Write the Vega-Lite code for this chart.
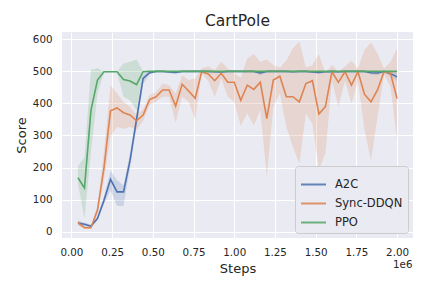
{
  "$schema": "https://vega.github.io/schema/vega-lite/v6.json",
  "width": 351,
  "height": 206,
  "autosize": {"type": "none"},
  "padding": {"left": 62, "top": 32, "right": 19, "bottom": 50},
  "background": "white",
  "title": {"text": "CartPole", "fontSize": 15.5, "font": "DejaVu Sans", "fontWeight": "normal", "color": "#262626", "anchor": "middle", "frame": "group", "baseline": "alphabetic", "offset": -9},
  "config": {
    "view": {"fill": "#EAEAF2", "stroke": null},
    "font": "DejaVu Sans"
  },
  "data": {"values": [
    {"s":40000,"a":"A2C","m":27,"lo":20,"hi":35},
    {"s":80000,"a":"A2C","m":23,"lo":18,"hi":28},
    {"s":120000,"a":"A2C","m":17,"lo":12,"hi":22},
    {"s":160000,"a":"A2C","m":41,"lo":35,"hi":48},
    {"s":200000,"a":"A2C","m":98,"lo":85,"hi":110},
    {"s":240000,"a":"A2C","m":163,"lo":130,"hi":190},
    {"s":280000,"a":"A2C","m":124,"lo":80,"hi":160},
    {"s":320000,"a":"A2C","m":124,"lo":80,"hi":145},
    {"s":360000,"a":"A2C","m":222,"lo":200,"hi":245},
    {"s":400000,"a":"A2C","m":350,"lo":330,"hi":370},
    {"s":440000,"a":"A2C","m":478,"lo":460,"hi":492},
    {"s":480000,"a":"A2C","m":496,"lo":490,"hi":500},
    {"s":520000,"a":"A2C","m":500,"lo":498,"hi":500},
    {"s":560000,"a":"A2C","m":500,"lo":498,"hi":500},
    {"s":600000,"a":"A2C","m":498,"lo":494,"hi":500},
    {"s":640000,"a":"A2C","m":497,"lo":493,"hi":500},
    {"s":680000,"a":"A2C","m":500,"lo":498,"hi":500},
    {"s":720000,"a":"A2C","m":500,"lo":498,"hi":500},
    {"s":760000,"a":"A2C","m":500,"lo":498,"hi":500},
    {"s":800000,"a":"A2C","m":500,"lo":498,"hi":500},
    {"s":840000,"a":"A2C","m":500,"lo":498,"hi":500},
    {"s":880000,"a":"A2C","m":499,"lo":496,"hi":500},
    {"s":920000,"a":"A2C","m":498,"lo":495,"hi":500},
    {"s":960000,"a":"A2C","m":500,"lo":498,"hi":500},
    {"s":1000000,"a":"A2C","m":500,"lo":498,"hi":500},
    {"s":1040000,"a":"A2C","m":500,"lo":498,"hi":500},
    {"s":1080000,"a":"A2C","m":500,"lo":498,"hi":500},
    {"s":1120000,"a":"A2C","m":500,"lo":498,"hi":500},
    {"s":1160000,"a":"A2C","m":495,"lo":488,"hi":500},
    {"s":1200000,"a":"A2C","m":500,"lo":498,"hi":500},
    {"s":1240000,"a":"A2C","m":500,"lo":498,"hi":500},
    {"s":1280000,"a":"A2C","m":500,"lo":498,"hi":500},
    {"s":1320000,"a":"A2C","m":500,"lo":498,"hi":500},
    {"s":1360000,"a":"A2C","m":499,"lo":496,"hi":500},
    {"s":1400000,"a":"A2C","m":500,"lo":498,"hi":500},
    {"s":1440000,"a":"A2C","m":500,"lo":498,"hi":500},
    {"s":1480000,"a":"A2C","m":498,"lo":495,"hi":500},
    {"s":1520000,"a":"A2C","m":497,"lo":493,"hi":500},
    {"s":1560000,"a":"A2C","m":499,"lo":496,"hi":500},
    {"s":1600000,"a":"A2C","m":500,"lo":498,"hi":500},
    {"s":1640000,"a":"A2C","m":499,"lo":496,"hi":500},
    {"s":1680000,"a":"A2C","m":500,"lo":498,"hi":500},
    {"s":1720000,"a":"A2C","m":500,"lo":498,"hi":500},
    {"s":1760000,"a":"A2C","m":500,"lo":498,"hi":500},
    {"s":1800000,"a":"A2C","m":500,"lo":498,"hi":500},
    {"s":1840000,"a":"A2C","m":496,"lo":490,"hi":500},
    {"s":1880000,"a":"A2C","m":495,"lo":488,"hi":500},
    {"s":1920000,"a":"A2C","m":500,"lo":498,"hi":500},
    {"s":1960000,"a":"A2C","m":493,"lo":485,"hi":500},
    {"s":2000000,"a":"A2C","m":483,"lo":470,"hi":496},
    {"s":40000,"a":"Sync-DDQN","m":28,"lo":20,"hi":35},
    {"s":80000,"a":"Sync-DDQN","m":12,"lo":8,"hi":18},
    {"s":120000,"a":"Sync-DDQN","m":12,"lo":8,"hi":18},
    {"s":160000,"a":"Sync-DDQN","m":67,"lo":55,"hi":80},
    {"s":200000,"a":"Sync-DDQN","m":200,"lo":160,"hi":250},
    {"s":240000,"a":"Sync-DDQN","m":377,"lo":296,"hi":457},
    {"s":280000,"a":"Sync-DDQN","m":386,"lo":327,"hi":431},
    {"s":320000,"a":"Sync-DDQN","m":371,"lo":320,"hi":405},
    {"s":360000,"a":"Sync-DDQN","m":364,"lo":327,"hi":390},
    {"s":400000,"a":"Sync-DDQN","m":346,"lo":317,"hi":364},
    {"s":440000,"a":"Sync-DDQN","m":364,"lo":345,"hi":382},
    {"s":480000,"a":"Sync-DDQN","m":412,"lo":395,"hi":426},
    {"s":520000,"a":"Sync-DDQN","m":421,"lo":405,"hi":436},
    {"s":560000,"a":"Sync-DDQN","m":442,"lo":421,"hi":462},
    {"s":600000,"a":"Sync-DDQN","m":442,"lo":421,"hi":457},
    {"s":640000,"a":"Sync-DDQN","m":392,"lo":340,"hi":432},
    {"s":680000,"a":"Sync-DDQN","m":460,"lo":421,"hi":488},
    {"s":720000,"a":"Sync-DDQN","m":439,"lo":405,"hi":473},
    {"s":760000,"a":"Sync-DDQN","m":416,"lo":350,"hi":478},
    {"s":800000,"a":"Sync-DDQN","m":499,"lo":494,"hi":510},
    {"s":840000,"a":"Sync-DDQN","m":492,"lo":470,"hi":515},
    {"s":880000,"a":"Sync-DDQN","m":471,"lo":421,"hi":504},
    {"s":920000,"a":"Sync-DDQN","m":494,"lo":478,"hi":530},
    {"s":960000,"a":"Sync-DDQN","m":466,"lo":421,"hi":509},
    {"s":1000000,"a":"Sync-DDQN","m":466,"lo":405,"hi":494},
    {"s":1040000,"a":"Sync-DDQN","m":410,"lo":330,"hi":480},
    {"s":1080000,"a":"Sync-DDQN","m":457,"lo":369,"hi":540},
    {"s":1120000,"a":"Sync-DDQN","m":444,"lo":332,"hi":554},
    {"s":1160000,"a":"Sync-DDQN","m":466,"lo":379,"hi":530},
    {"s":1200000,"a":"Sync-DDQN","m":353,"lo":171,"hi":537},
    {"s":1240000,"a":"Sync-DDQN","m":473,"lo":390,"hi":520},
    {"s":1280000,"a":"Sync-DDQN","m":485,"lo":431,"hi":512},
    {"s":1320000,"a":"Sync-DDQN","m":421,"lo":327,"hi":533},
    {"s":1360000,"a":"Sync-DDQN","m":421,"lo":265,"hi":572},
    {"s":1400000,"a":"Sync-DDQN","m":405,"lo":212,"hi":593},
    {"s":1440000,"a":"Sync-DDQN","m":462,"lo":369,"hi":512},
    {"s":1480000,"a":"Sync-DDQN","m":471,"lo":337,"hi":520},
    {"s":1520000,"a":"Sync-DDQN","m":367,"lo":192,"hi":554},
    {"s":1560000,"a":"Sync-DDQN","m":390,"lo":245,"hi":495},
    {"s":1600000,"a":"Sync-DDQN","m":499,"lo":470,"hi":520},
    {"s":1640000,"a":"Sync-DDQN","m":466,"lo":390,"hi":500},
    {"s":1680000,"a":"Sync-DDQN","m":499,"lo":470,"hi":515},
    {"s":1720000,"a":"Sync-DDQN","m":457,"lo":400,"hi":533},
    {"s":1760000,"a":"Sync-DDQN","m":499,"lo":470,"hi":509},
    {"s":1800000,"a":"Sync-DDQN","m":429,"lo":317,"hi":567},
    {"s":1840000,"a":"Sync-DDQN","m":405,"lo":223,"hi":590},
    {"s":1880000,"a":"Sync-DDQN","m":442,"lo":358,"hi":556},
    {"s":1920000,"a":"Sync-DDQN","m":499,"lo":489,"hi":509},
    {"s":1960000,"a":"Sync-DDQN","m":494,"lo":452,"hi":530},
    {"s":2000000,"a":"Sync-DDQN","m":415,"lo":285,"hi":572},
    {"s":40000,"a":"PPO","m":168,"lo":150,"hi":205},
    {"s":80000,"a":"PPO","m":136,"lo":40,"hi":232},
    {"s":120000,"a":"PPO","m":379,"lo":250,"hi":505},
    {"s":160000,"a":"PPO","m":473,"lo":430,"hi":510},
    {"s":200000,"a":"PPO","m":499,"lo":497,"hi":500},
    {"s":240000,"a":"PPO","m":499,"lo":497,"hi":500},
    {"s":280000,"a":"PPO","m":499,"lo":497,"hi":500},
    {"s":320000,"a":"PPO","m":475,"lo":421,"hi":525},
    {"s":360000,"a":"PPO","m":470,"lo":410,"hi":530},
    {"s":400000,"a":"PPO","m":459,"lo":379,"hi":537},
    {"s":440000,"a":"PPO","m":499,"lo":497,"hi":500},
    {"s":480000,"a":"PPO","m":500,"lo":499,"hi":500},
    {"s":520000,"a":"PPO","m":500,"lo":499,"hi":500},
    {"s":560000,"a":"PPO","m":500,"lo":499,"hi":500},
    {"s":600000,"a":"PPO","m":500,"lo":499,"hi":500},
    {"s":640000,"a":"PPO","m":500,"lo":499,"hi":500},
    {"s":680000,"a":"PPO","m":500,"lo":499,"hi":500},
    {"s":720000,"a":"PPO","m":500,"lo":499,"hi":500},
    {"s":760000,"a":"PPO","m":500,"lo":499,"hi":500},
    {"s":800000,"a":"PPO","m":500,"lo":499,"hi":500},
    {"s":840000,"a":"PPO","m":500,"lo":499,"hi":500},
    {"s":880000,"a":"PPO","m":500,"lo":499,"hi":500},
    {"s":920000,"a":"PPO","m":500,"lo":499,"hi":500},
    {"s":960000,"a":"PPO","m":500,"lo":499,"hi":500},
    {"s":1000000,"a":"PPO","m":500,"lo":499,"hi":500},
    {"s":1040000,"a":"PPO","m":500,"lo":499,"hi":500},
    {"s":1080000,"a":"PPO","m":500,"lo":499,"hi":500},
    {"s":1120000,"a":"PPO","m":500,"lo":499,"hi":500},
    {"s":1160000,"a":"PPO","m":500,"lo":499,"hi":500},
    {"s":1200000,"a":"PPO","m":500,"lo":499,"hi":500},
    {"s":1240000,"a":"PPO","m":500,"lo":499,"hi":500},
    {"s":1280000,"a":"PPO","m":500,"lo":499,"hi":500},
    {"s":1320000,"a":"PPO","m":500,"lo":499,"hi":500},
    {"s":1360000,"a":"PPO","m":500,"lo":499,"hi":500},
    {"s":1400000,"a":"PPO","m":500,"lo":499,"hi":500},
    {"s":1440000,"a":"PPO","m":500,"lo":499,"hi":500},
    {"s":1480000,"a":"PPO","m":500,"lo":499,"hi":500},
    {"s":1520000,"a":"PPO","m":500,"lo":499,"hi":500},
    {"s":1560000,"a":"PPO","m":500,"lo":499,"hi":500},
    {"s":1600000,"a":"PPO","m":500,"lo":499,"hi":500},
    {"s":1640000,"a":"PPO","m":500,"lo":499,"hi":500},
    {"s":1680000,"a":"PPO","m":500,"lo":499,"hi":500},
    {"s":1720000,"a":"PPO","m":500,"lo":499,"hi":500},
    {"s":1760000,"a":"PPO","m":500,"lo":499,"hi":500},
    {"s":1800000,"a":"PPO","m":500,"lo":499,"hi":500},
    {"s":1840000,"a":"PPO","m":500,"lo":499,"hi":500},
    {"s":1880000,"a":"PPO","m":500,"lo":499,"hi":500},
    {"s":1920000,"a":"PPO","m":500,"lo":499,"hi":500},
    {"s":1960000,"a":"PPO","m":500,"lo":499,"hi":500},
    {"s":2000000,"a":"PPO","m":500,"lo":499,"hi":500}
  ]},
  "layer": [
    {
      "mark": {"type": "area", "fillOpacity": 0.2},
      "encoding": {
        "x": {"field": "s", "type": "quantitative",
          "scale": {"domain": [-58000, 2098000], "nice": false, "zero": false},
          "axis": {"orient": "bottom", "title": "Steps", "values": [0, 250000, 500000, 750000, 1000000, 1250000, 1500000, 1750000, 2000000],
            "labelExpr": "format(datum.value / 1000000, '.2f')",
            "grid": true, "gridColor": "#FFFFFF", "gridWidth": 1, "ticks": false, "domain": false,
            "labelFont": "DejaVu Sans", "labelFontSize": 10.3, "labelColor": "#262626", "labelPadding": 17.5, "labelBaseline": "alphabetic",
            "labelFlush": false, "labelOverlap": false,
            "titleFont": "DejaVu Sans", "titleFontSize": 13, "titleFontWeight": "normal", "titleColor": "#262626", "titleY": 34, "titleBaseline": "alphabetic"}},
        "y": {"field": "lo", "type": "quantitative",
          "scale": {"domain": [-20, 623], "nice": false, "zero": false},
          "axis": {"title": "Score", "values": [0, 100, 200, 300, 400, 500, 600],
            "grid": true, "gridColor": "#FFFFFF", "gridWidth": 1, "ticks": false, "domain": false,
            "labelFont": "DejaVu Sans", "labelFontSize": 10.3, "labelColor": "#262626", "labelPadding": 10,
            "titleFont": "DejaVu Sans", "titleFontSize": 13, "titleFontWeight": "normal", "titleColor": "#262626",
            "titleX": -37, "titleY": 103, "titleBaseline": "alphabetic", "titleAlign": "center"}},
        "y2": {"field": "hi"},
        "color": {"field": "a", "type": "nominal",
          "scale": {"domain": ["A2C", "Sync-DDQN", "PPO"], "range": ["#4C72B0", "#DD8452", "#55A868"]}}
      }
    },
    {
      "mark": {"type": "line", "strokeWidth": 1.6},
      "encoding": {
        "x": {"field": "s", "type": "quantitative",
          "axis": {"orient": "bottom", "title": "1e6", "labels": false, "ticks": false, "domain": false, "grid": false,
            "titleFont": "DejaVu Sans", "titleFontSize": 10.3, "titleFontWeight": "normal", "titleColor": "#262626",
            "titleAnchor": "end", "titleAlign": "right", "titleX": 350, "titleY": 29.6, "titleBaseline": "alphabetic"}},
        "y": {"field": "m", "type": "quantitative",
          "axis": {"title": "Score", "values": [0, 100, 200, 300, 400, 500, 600],
            "grid": true, "gridColor": "#FFFFFF", "gridWidth": 1, "ticks": false, "domain": false,
            "labelFont": "DejaVu Sans", "labelFontSize": 10.3, "labelColor": "#262626", "labelPadding": 10,
            "titleFont": "DejaVu Sans", "titleFontSize": 13, "titleFontWeight": "normal", "titleColor": "#262626",
            "titleX": -37, "titleY": 103, "titleBaseline": "alphabetic", "titleAlign": "center"}},
        "color": {"field": "a", "type": "nominal",
          "scale": {"domain": ["A2C", "Sync-DDQN", "PPO"], "range": ["#4C72B0", "#DD8452", "#55A868"]},
          "legend": {"title": null, "orient": "bottom-right", "offset": 5, "padding": 5,
            "symbolType": "stroke", "symbolSize": 625, "symbolStrokeWidth": 2, "symbolOpacity": 0.85,
            "labelFont": "DejaVu Sans", "labelFontSize": 11.5, "labelColor": "#262626", "labelOffset": 8,
            "rowPadding": 0, "fillColor": "#EAEAF2", "strokeColor": "#CCCCCC", "cornerRadius": 3,
            "encode": {"symbols": {"update": {"opacity": {"value": 0.85}, "strokeWidth": {"value": 2}}}}}}
      }
    }
  ],
  "resolve": {"axis": {"x": "independent"}}
}
